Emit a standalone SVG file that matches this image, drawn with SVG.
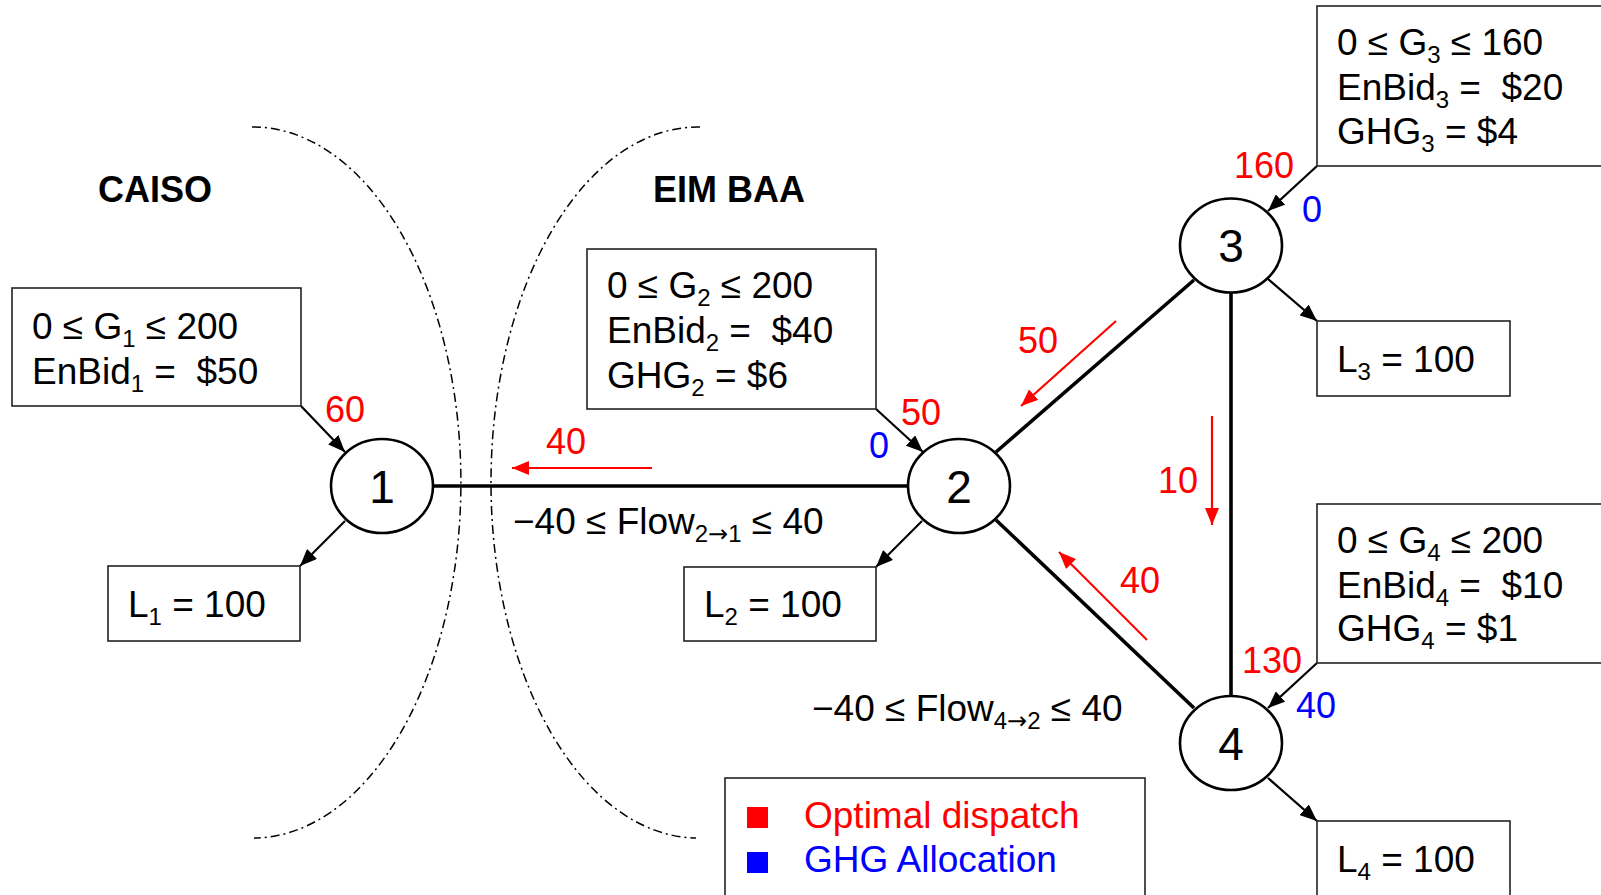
<svg xmlns="http://www.w3.org/2000/svg" width="1601" height="895" viewBox="0 0 1601 895">
<defs>
<style>
text{font-family:"Liberation Sans",Arial,sans-serif;font-size:37px;fill:#000;white-space:pre}
.b{font-weight:bold;font-size:36px}
.r{fill:#ff0000;font-size:36px}
.bl{fill:#0000ff;font-size:36px}
.lg{font-size:37px}
.nl{font-size:46px;text-anchor:middle}
.ar{font-family:"DejaVu Sans",sans-serif;font-size:24px}
.box{fill:#fff;stroke:#222;stroke-width:1.6}
.node{fill:#fff;stroke:#000;stroke-width:2.6}
.edge{stroke:#000;stroke-width:3.6;fill:none}
.arr{stroke:#000;stroke-width:2.2;fill:none;marker-end:url(#ah)}
.rarr{stroke:#ff0000;stroke-width:2.2;fill:none;marker-end:url(#rh)}
.arc{fill:none;stroke:#000;stroke-width:1.5;stroke-dasharray:9 4 2 4}
</style>
<marker id="ah" markerUnits="userSpaceOnUse" markerWidth="18" markerHeight="14" refX="17" refY="7" orient="auto"><path d="M0,0 L17,7 L0,14 z" fill="#000"/></marker>
<marker id="rh" markerUnits="userSpaceOnUse" markerWidth="18" markerHeight="14" refX="17" refY="7" orient="auto"><path d="M0,0 L17,7 L0,14 z" fill="#ff0000"/></marker>
</defs>
<rect width="1601" height="895" fill="#fff"/>

<g id="regions">
<path class="arc" d="M252,127 A208,355.5 0 0 1 254,838"/>
<path class="arc" d="M700,127 A207,355.5 0 0 0 696,838"/>
<text class="b" x="98" y="202">CAISO</text>
<text class="b" x="653" y="202">EIM BAA</text>
</g>

<g id="connectors">
<line class="edge" x1="433" y1="486" x2="908" y2="486"/>
<line class="edge" x1="996" y1="452" x2="1194" y2="280"/>
<line class="edge" x1="996" y1="520" x2="1194" y2="708"/>
<line class="edge" x1="1231" y1="293" x2="1231" y2="696"/>
<line class="arr" x1="301" y1="406" x2="345" y2="452"/>
<line class="arr" x1="345" y1="521" x2="300" y2="566"/>
<line class="arr" x1="876" y1="409" x2="923" y2="452"/>
<line class="arr" x1="922" y1="521" x2="876" y2="567"/>
<line class="arr" x1="1317" y1="166" x2="1268" y2="211"/>
<line class="arr" x1="1268" y1="279" x2="1317" y2="321"/>
<line class="arr" x1="1317" y1="663" x2="1268" y2="708"/>
<line class="arr" x1="1268" y1="778" x2="1317" y2="821"/>
<line class="rarr" x1="652" y1="468" x2="512" y2="468"/>
<line class="rarr" x1="1116" y1="321" x2="1021" y2="406"/>
<line class="rarr" x1="1212" y1="416" x2="1212" y2="525"/>
<line class="rarr" x1="1147" y1="640" x2="1059" y2="552"/>
<text class="r" x="546" y="454">40</text>
<text class="r" x="1018" y="353">50</text>
<text class="r" x="1158" y="493">10</text>
<text class="r" x="1120" y="593">40</text>
<text x="513" y="534">−40 ≤ Flow<tspan font-size="24" dy="8">2</tspan><tspan class="ar">→</tspan><tspan font-size="24">1</tspan><tspan dy="-8"> ≤ 40</tspan></text>
<text x="812" y="721">−40 ≤ Flow<tspan font-size="24" dy="8">4</tspan><tspan class="ar">→</tspan><tspan font-size="24">2</tspan><tspan dy="-8"> ≤ 40</tspan></text>
</g>

<g id="node1">
<ellipse class="node" cx="382" cy="486" rx="51" ry="47"/>
<text class="nl" x="382" y="503">1</text>
<rect class="box" x="12" y="288" width="289" height="118"/>
<text x="32" y="339">0 ≤ G<tspan font-size="24" dy="8">1</tspan><tspan dy="-8"> ≤ 200</tspan></text>
<text x="32" y="384">EnBid<tspan font-size="24" dy="8">1</tspan><tspan dy="-8"> =  $50</tspan></text>
<text class="r" x="325" y="422">60</text>
<rect class="box" x="108" y="566" width="192" height="75"/>
<text x="128" y="617">L<tspan font-size="24" dy="8">1</tspan><tspan dy="-8"> = 100</tspan></text>
</g>

<g id="node2">
<ellipse class="node" cx="959" cy="486" rx="51" ry="47"/>
<text class="nl" x="959" y="503">2</text>
<rect class="box" x="587" y="249" width="289" height="160"/>
<text x="607" y="298">0 ≤ G<tspan font-size="24" dy="8">2</tspan><tspan dy="-8"> ≤ 200</tspan></text>
<text x="607" y="343">EnBid<tspan font-size="24" dy="8">2</tspan><tspan dy="-8"> =  $40</tspan></text>
<text x="607" y="388">GHG<tspan font-size="24" dy="8">2</tspan><tspan dy="-8"> = $6</tspan></text>
<text class="r" x="901" y="425">50</text>
<text class="bl" x="869" y="458">0</text>
<rect class="box" x="684" y="567" width="192" height="74"/>
<text x="704" y="617">L<tspan font-size="24" dy="8">2</tspan><tspan dy="-8"> = 100</tspan></text>
</g>

<g id="node3">
<ellipse class="node" cx="1231" cy="245.5" rx="51" ry="47"/>
<text class="nl" x="1231" y="262">3</text>
<rect class="box" x="1317" y="6" width="300" height="160"/>
<text x="1337" y="55">0 ≤ G<tspan font-size="24" dy="8">3</tspan><tspan dy="-8"> ≤ 160</tspan></text>
<text x="1337" y="100">EnBid<tspan font-size="24" dy="8">3</tspan><tspan dy="-8"> =  $20</tspan></text>
<text x="1337" y="144">GHG<tspan font-size="24" dy="8">3</tspan><tspan dy="-8"> = $4</tspan></text>
<text class="r" x="1234" y="178">160</text>
<text class="bl" x="1302" y="222">0</text>
<rect class="box" x="1317" y="321" width="193" height="75"/>
<text x="1337" y="372">L<tspan font-size="24" dy="8">3</tspan><tspan dy="-8"> = 100</tspan></text>
</g>

<g id="node4">
<ellipse class="node" cx="1231" cy="743" rx="51" ry="47"/>
<text class="nl" x="1231" y="760">4</text>
<rect class="box" x="1317" y="504" width="300" height="159"/>
<text x="1337" y="553">0 ≤ G<tspan font-size="24" dy="8">4</tspan><tspan dy="-8"> ≤ 200</tspan></text>
<text x="1337" y="598">EnBid<tspan font-size="24" dy="8">4</tspan><tspan dy="-8"> =  $10</tspan></text>
<text x="1337" y="641">GHG<tspan font-size="24" dy="8">4</tspan><tspan dy="-8"> = $1</tspan></text>
<text class="r" x="1242" y="673">130</text>
<text class="bl" x="1296" y="718">40</text>
<rect class="box" x="1317" y="821" width="193" height="90"/>
<text x="1337" y="872">L<tspan font-size="24" dy="8">4</tspan><tspan dy="-8"> = 100</tspan></text>
</g>

<g id="legend">
<rect class="box" x="725" y="778" width="420" height="130"/>
<rect x="747" y="807" width="21" height="21" fill="#ff0000"/>
<rect x="747" y="852" width="21" height="21" fill="#0000ff"/>
<text class="r lg" x="804" y="828">Optimal dispatch</text>
<text class="bl lg" x="804" y="872">GHG Allocation</text>
</g>
</svg>
